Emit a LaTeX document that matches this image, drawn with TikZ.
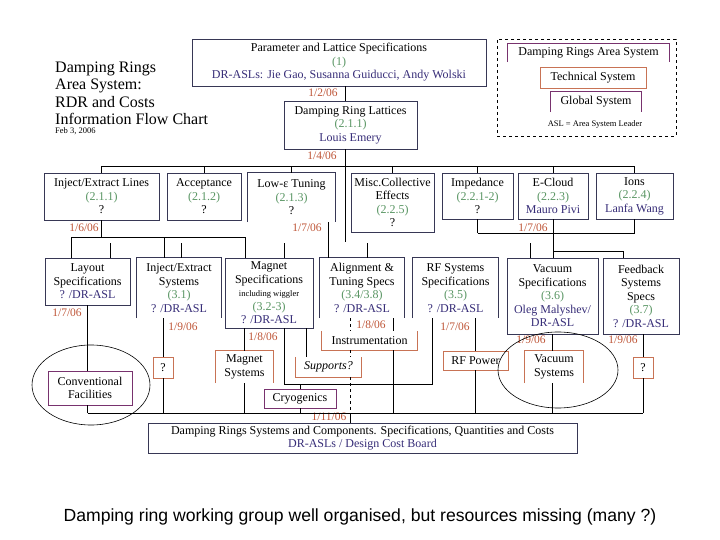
\documentclass[tikz,border=0pt]{standalone}
\usepackage{fontspec}
\setmainfont{Liberation Serif}
\newfontfamily\capfont{Liberation Sans}
\usepackage{tikz}
\usetikzlibrary{positioning,calc}
\definecolor{boxcol}{RGB}{55,55,85}
\definecolor{orgcol}{RGB}{200,115,85}
\definecolor{purcol}{RGB}{120,50,110}
\definecolor{grncol}{RGB}{90,150,100}
\definecolor{whocol}{RGB}{55,45,120}
\definecolor{datecol}{RGB}{190,85,55}
\newcommand{\grn}[1]{\textcolor{grncol}{#1}}
\newcommand{\who}[1]{\textcolor{whocol}{#1}}
% boxes drawn on three sides only
\newcommand{\openbot}[2]{\draw[#2,line width=0.9pt] (#1.south west) |- (#1.north east) -- (#1.south east);}
\newcommand{\opentop}[2]{\draw[#2,line width=0.9pt] (#1.north west) |- (#1.south east) -- (#1.north east);}
\tikzset{base/.style={fill=white,align=center,inner sep=1pt,font=\fontsize{12}{13.5}\selectfont},
  box/.style={base,draw=boxcol,line width=0.9pt},
  orgbox/.style={base,draw=orgcol,line width=0.9pt},
  purbox/.style={base,draw=purcol,line width=0.9pt},
  obox/.style={base},
  sz/.style 2 args={minimum width=#1pt,minimum height=#2pt},
  dt/.style={text=datecol,inner sep=0pt,font=\fontsize{11.5}{12}\selectfont},
  wire/.style={draw=black,line width=0.8pt}}

\begin{document}
\begin{tikzpicture}[x=1pt,y=-1pt]
\useasboundingbox (0,0) rectangle (720,540);
% title
\node[anchor=base west,align=left,inner sep=0pt,font=\fontsize{16}{17.5}\selectfont] (title) at (55,125) {Damping Rings\\Area System:\\RDR and Costs\\Information Flow Chart};
\node[anchor=base west,inner sep=0pt,font=\fontsize{8.5}{10}\selectfont] (feb) at (55,134) {Feb 3, 2006};

% legend
\node[draw,dashed,line width=0.6pt,sz={179}{97},inner sep=0pt] (legend) at (586.5,87.5) {};
\node[obox,sz={161}{18}] (lgdr) at (588.5,53) {Damping Rings Area System}; \openbot{lgdr}{purcol}
\node[orgbox,sz={106}{21}] (lgtech) at (593,77.5) {Technical System};
\node[obox,sz={90}{20}] (lgglob) at (596,102) {Global System}; \openbot{lgglob}{purcol}
\node[inner sep=0pt,font=\fontsize{8.5}{10}\selectfont] (lgasl) at (595,124) {ASL = Area System Leader};

% top
\node[box,sz={294}{47}] (param) at (339,62.5) {Parameter and Lattice Specifications\\ \grn{(1)}\\ \who{DR-ASLs: Jie Gao, Susanna Guiducci, Andy Wolski}};
\node[box,sz={133}{48}] (latt) at (350.5,125) {Damping Ring Lattices\\ \grn{(2.1.1)}\\ \who{Louis Emery}};

% row 2
\node[box,sz={115}{47}] (injl) at (101.5,196.5) {Inject/Extract Lines\\ \grn{(2.1.1)}\\ ?};
\node[box,sz={74}{47}] (accept) at (204,196.5) {Acceptance\\ \grn{(2.1.2)}\\ ?};
\node[obox,sz={87}{49}] (lowe) at (291.5,197.5) {Low-ε Tuning\\ \grn{(2.1.3)}\\ ?}; \openbot{lowe}{boxcol}
\node[box,sz={83}{59}] (misc) at (392.5,202.5) {Misc.Collective\\ Effects\\ \grn{(2.2.5)}\\ ?};
\node[box,sz={71}{46}] (imped) at (477.5,196) {Impedance\\ \grn{(2.2.1-2)}\\ ?};
\node[box,sz={70}{46}] (ecloud) at (553,196) {E-Cloud\\ \grn{(2.2.3)}\\ \who{Mauro Pivi}};
\node[box,sz={77}{46}] (ions) at (634.5,196) {Ions\\ \grn{(2.2.4)}\\ \who{Lanfa Wang}};

% row 3
\node[box,sz={85}{47}] (layout) at (87.5,281.5) {Layout\\ Specifications\\ \who{? /DR-ASL}};
\node[obox,sz={84}{60}] (injs) at (179,288) {Inject/Extract\\ Systems\\ \grn{(3.1)}\\ \who{? /DR-ASL}}; \openbot{injs}{boxcol}
\node[box,sz={88}{70}] (magspec) at (269,293) {Magnet\\ Specifications\\ {\fontsize{8.5}{10}\selectfont including wiggler}\\ \grn{(3.2-3)}\\ \who{? /DR-ASL}};
\node[obox,sz={84}{60}] (align) at (362,288) {Alignment \&\\ Tuning Specs\\ \grn{(3.4/3.8)}\\ \who{? /DR-ASL}}; \openbot{align}{boxcol}
\node[obox,sz={85}{60}] (rfspec) at (455.5,288) {RF Systems\\ Specifications\\ \grn{(3.5)}\\ \who{? /DR-ASL}}; \openbot{rfspec}{boxcol}
\node[box,sz={91}{76}] (vacspec) at (552.5,296) {Vacuum\\ Specifications\\ \grn{(3.6)}\\ \who{Oleg Malyshev/}\\ \who{DR-ASL}};
\node[box,sz={76}{76}] (feedb) at (641,296) {Feedback\\ Systems\\ Specs\\ \grn{(3.7)}\\ \who{? /DR-ASL}};

% row 4
\node[orgbox,sz={20}{21}] (q1) at (163,367.5) {?};
\node[purbox,sz={84}{34}] (conv) at (90,388) {Conventional\\ Facilities};
\node[obox,sz={57}{32}] (magsys) at (244.5,367) {Magnet\\ Systems}; \openbot{magsys}{orgcol}
\node[obox,sz={65}{20}] (supp) at (328.5,367) {\textit{Supports?}}; \opentop{supp}{orgcol}
\node[obox,sz={95}{19}] (instr) at (369.5,340.5) {Instrumentation}; \opentop{instr}{orgcol}
\node[purbox,sz={72}{19}] (cryo) at (300,398.5) {Cryogenics};
\node[orgbox,sz={65}{19}] (rfpow) at (475.5,360.5) {RF Power};
\node[obox,sz={58}{32}] (vacsys) at (554,367) {Vacuum\\ Systems}; \openbot{vacsys}{orgcol}
\node[orgbox,sz={20}{21}] (q2) at (643,367.5) {?};

% bottom
\node[box,sz={429}{30}] (cost) at (362.5,438) {Damping Rings Systems and Components. Specifications, Quantities and Costs\\ \who{DR-ASLs / Design Cost Board}};

% dates
\node[dt] (d12) at (323,93) {1/2/06};
\node[dt] (d14) at (322,156) {1/4/06};
\node[dt] (d16) at (84,228) {1/6/06};
\node[dt] (d17a) at (307,228) {1/7/06};
\node[dt] (d17b) at (533,228) {1/7/06};
\node[dt] (d17c) at (67,313) {1/7/06};
\node[dt] (d19a) at (183,327) {1/9/06};
\node[dt] (d18a) at (263,337) {1/8/06};
\node[dt] (d18b) at (371,325) {1/8/06};
\node[dt] (d17d) at (455,327) {1/7/06};
\node[dt] (d19b) at (531,340) {1/9/06};
\node[dt] (d19c) at (623,340) {1/9/06};
\node[dt] (d111) at (329,417) {1/11/06};

% helper coordinates
\foreach \x in {71,110,164,181,245,284,306,328,350,367,393,432,530,552}
  \coordinate (x\x) at (\x,0);
\coordinate (xmain) at (345,0);
\coordinate (bus2) at (0,166);
\coordinate (mainend) at (345,242);
\coordinate (injbus) at (0,237);
\coordinate (tickrow) at (0,243);
\coordinate (rbus) at (0,233);
\coordinate (fbjoin) at (623,251);
\coordinate (cryrow) at (0,384);
\coordinate (bus4) at (0,413);

% top to row 2
\draw[wire] (param.south -| xmain) -- (latt.north -| xmain);
\draw[wire] (latt.south -| xmain) -- (mainend);
\draw[wire] (injl.north |- bus2) -- (ions.north |- bus2);
\foreach \n in {injl,accept,lowe,misc,imped,ecloud,ions}
  \draw[wire] (\n.north) -- (\n.north |- bus2);

% row 2 to row 3
\draw[wire] (injl.south) -- (injl.south |- injbus);
\draw[wire] (injbus -| x71) -- (injbus -| x245);
\foreach \x/\n in {71/layout,164/injs,245/magspec}
  \draw[wire] (injbus -| x\x) -- (\n.north -| x\x);
\foreach \x/\n in {110/layout,181/injs,284/magspec,367/align,530/vacspec}
  \draw[wire] (tickrow -| x\x) -- (\n.north -| x\x);
\draw[wire] (lowe.south -| x328) -- (align.north -| x328);
\foreach \n in {imped,ecloud,ions}
  \draw[wire] (\n.south) -- (\n.south |- rbus);
\draw[wire] (imped.south |- rbus) -- (ions.south |- rbus);
\draw[wire] (ecloud.south |- rbus) -- (ecloud.south |- vacspec.north);
\draw[wire] (ecloud.south |- fbjoin) -| (feedb.north -| fbjoin);

% row 3 to row 4
\draw[wire] (layout.south) -- (conv.north -| layout.south);
\draw[wire] (conv.south -| layout.south) -- (layout.south |- bus4);
\draw[wire] (injs.south -| q1) -- (q1.north);
\draw[wire] (q1.south) -- (q1 |- bus4);
\draw[wire] (magspec.south -| magsys) -- (magsys.north);
\draw[wire] (magsys.south) -- (magsys.south |- bus4);
\draw[wire] (magspec.south -| x284) -- (cryrow -| x284) -| (rfspec.south -| x432);
\draw[wire] (magspec.south -| x306) -- (supp.north -| x306);
\draw[wire] (cryrow -| cryo) -- (cryo.north);
\draw[wire] (cryo.south) -- (cryo.south |- bus4);
\draw[wire,dashed] (align.south -| x350) -- (instr.north -| x350);
\draw[wire,dashed] (instr.south -| x350) -- (supp.north -| x350);
\draw[wire,dashed] (supp.south -| x350) -- (bus4 -| x350);
\draw[wire] (align.south -| x393) -- (instr.north -| x393);
\draw[wire] (instr.south -| x393) -- (bus4 -| x393);
\draw[wire] (rfspec.south -| rfpow) -- (rfpow.north);
\draw[wire] (rfpow.south) -- (rfpow.south |- bus4);
\draw[wire] (vacspec.south -| x552) -- (vacsys.north -| x552);
\draw[wire] (vacsys.south -| x552) -- (bus4 -| x552);
\draw[wire] (feedb.south -| q2) -- (q2.north);
\draw[wire] (q2.south) -- (q2 |- bus4);
\draw[wire] (bus4 -| layout.south) -- (bus4 -| q2);
\draw[wire] (bus4 -| x350) -- (cost.north -| x350);

% circled items
\draw[line width=0.6pt] (91,385) ellipse [x radius=59, y radius=40];
\draw[line width=0.6pt] (558,370) ellipse [x radius=60, y radius=38];

\node[inner sep=0pt,font=\capfont\fontsize{17.6}{20}\selectfont] (caption) at (360,517) {Damping ring working group well organised, but resources missing (many ?)};
\end{tikzpicture}
\end{document}
